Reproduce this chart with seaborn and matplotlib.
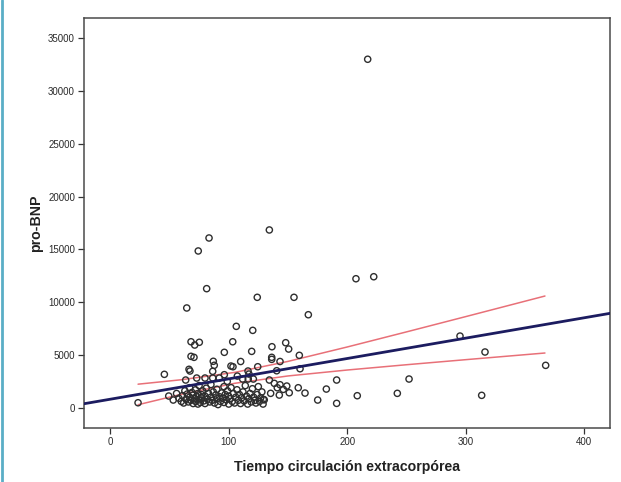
import numpy as np
import pandas as pd
import matplotlib
matplotlib.use("Agg")
import matplotlib.pyplot as plt
from matplotlib.lines import Line2D
import seaborn as sns

# Patients spread out from the main cluster (minutes, pg/mL)
spread_cec = [217.3, 83.4, 74.3, 134.3, 81.4, 124.1, 155.1, 207.4, 222.4, 64.6,
              106.4, 120.3, 167.2, 68.2, 75.2, 71.3, 103.4, 136.5, 148.1, 150.6,
              96.3, 119.4, 68.2, 70.7, 159.6, 136.3, 136.3, 143.3, 87.0, 110.1,
              87.8, 101.9, 103.6, 124.5, 45.7, 66.5, 67.3, 86.5, 96.3, 116.3,
              117.1, 107.3, 140.5, 160.2, 63.7, 73.0, 80.0, 86.5, 92.0, 98.8,
              111.8, 116.5, 120.8, 134.3, 138.5, 143.3, 149.0, 158.7, 164.4, 175.1,
              182.4, 191.1, 191.1, 23.5, 49.4, 53.2, 295.2, 316.3, 367.5, 252.2,
              208.5, 242.3, 313.5, 151.1, 146.1, 142.7, 141.0, 135.4, 129.2]
spread_bnp = [33010, 16080, 14850, 16840, 11280, 10460, 10460, 12220, 12410, 9450,
              7710, 7330, 8810, 6250, 6200, 5940, 6250, 5780, 6160, 5560,
              5250, 5340, 4870, 4775, 4965, 4775, 4585, 4380, 4400, 4380,
              4020, 3950, 3885, 3885, 3165, 3640, 3480, 3450, 3130, 3480,
              3190, 3000, 3505, 3695, 2625, 2815, 2815, 2815, 2815, 2500,
              2720, 2720, 2720, 2625, 2310, 2180, 2055, 1895, 1390, 730,
              1770, 2625, 415, 474, 1110, 730, 6790, 5280, 4015, 2720,
              1140, 1365, 1175, 1420, 1740, 1200, 1895, 1365, 795]

# Dense group of patients with short bypass and low pro-BNP
dense_cec = [56, 58, 60, 61, 62, 63, 64, 65, 66, 67, 67, 68, 69, 70, 70, 71, 72, 72,
             73, 74, 74, 75, 75, 76, 77, 77, 78, 79, 80, 80, 81, 82, 83, 84, 85, 85,
             86, 87, 88, 89, 90, 90, 91, 92, 93, 94, 95, 96, 96, 97, 98, 99, 100, 100,
             101, 102, 103, 104, 105, 106, 107, 108, 109, 110, 111, 112, 113, 114, 115,
             116, 117, 118, 119, 120, 121, 122, 123, 124, 125, 126, 127, 128, 129, 130]
dense_bnp = [1350, 900, 600, 1150, 450, 1600, 800, 1300, 550, 1900, 1000, 700, 1450,
             400, 1200, 850, 1700, 600, 1050, 350, 1350, 2100, 750, 500, 1250, 950,
             1600, 650, 1100, 400, 1850, 800, 1350, 550, 1000, 2200, 700, 1500, 450,
             1200, 850, 1750, 300, 1050, 600, 1400, 900, 2000, 500, 1250, 750, 1600,
             350, 1100, 850, 1900, 600, 1350, 450, 1000, 1700, 700, 1250, 400, 950,
             1500, 650, 2100, 1100, 350, 850, 1350, 550, 1800, 1000, 700, 450, 1250,
             2000, 600, 950, 1500, 350, 750]

# Linear fit across the whole axis and 95% confidence limits of the mean
fit_x = [-22, 422]
fit_y = [382, 8946]
ci_x = [23.5, 60, 105, 150, 200, 250, 300, 366.9]
ci_upper = [2232, 2652, 3348, 4389, 5755, 7184, 8632, 10583]
ci_lower = [286, 1274, 2314, 3011, 3573, 4074, 4554, 5185]

x_ticks = [0, 100, 200, 300, 400]
y_ticks = [0, 5000, 10000, 15000, 20000, 25000, 30000, 35000]

points = pd.DataFrame({
    "cec": spread_cec + dense_cec,
    "bnp": spread_bnp + dense_bnp,
})
fit = pd.DataFrame({"x": fit_x, "y": fit_y})
ci = pd.DataFrame({"x": ci_x, "upper": ci_upper, "lower": ci_lower})

sns.set_theme(style="ticks")
plt.rcParams["font.family"] = ["Liberation Sans", "DejaVu Sans"]

fig = plt.figure(figsize=(6.21, 4.82), dpi=100)
fig.patch.set_facecolor("white")
ax = fig.add_axes([0.1353, 0.112, 0.847, 0.8507])

sns.scatterplot(data=points, x="cec", y="bnp", ax=ax, marker="o",
                facecolor="none", edgecolor="#2e2e2e", linewidth=1.0, s=20,
                zorder=3)
sns.lineplot(data=ci, x="x", y="upper", ax=ax, color="#e87078", linewidth=1.1,
             zorder=2)
sns.lineplot(data=ci, x="x", y="lower", ax=ax, color="#e87078", linewidth=1.1,
             zorder=2)
sns.lineplot(data=fit, x="x", y="y", ax=ax, color="#1c1c60", linewidth=2.0,
             zorder=4)

ax.set_xlim(-22.1, 421.8)
ax.set_ylim(-1920, 36920)
ax.set_xticks(x_ticks)
ax.set_yticks(y_ticks)
ax.set_xticklabels([str(t) for t in x_ticks])
ax.set_yticklabels([str(t) for t in y_ticks])
ax.tick_params(axis="both", labelsize=7, colors="#333333", length=4.5,
               width=0.9, pad=2)
ax.tick_params(axis="both", labelcolor="#2a2a2a")
for side in ["left", "right", "top", "bottom"]:
    ax.spines[side].set_visible(True)
    ax.spines[side].set_color("#4a4a4a")
    ax.spines[side].set_linewidth(1.1)

ax.set_xlabel("Tiempo circulación extracorpórea", fontsize=10.2,
              fontweight="bold", color="#222222", labelpad=9)
ax.set_ylabel("pro-BNP", fontsize=10.2, fontweight="bold", color="#222222",
              labelpad=4)

# Teal page rule along the left edge
fig.add_artist(Line2D([0.0025, 0.0025], [0, 1], transform=fig.transFigure,
                      color="#5aaec6", linewidth=2.0))

fig.savefig("out.png", dpi=100, facecolor="white")
